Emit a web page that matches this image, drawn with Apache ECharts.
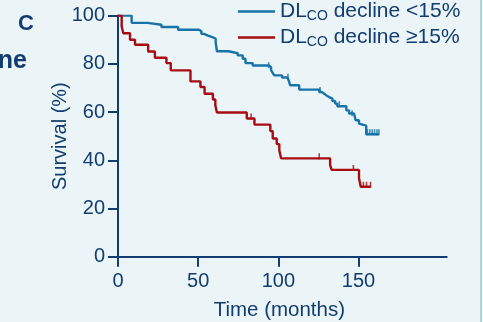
<!DOCTYPE html>
<html>
<head>
<meta charset="utf-8">
<script src="https://cdn.jsdelivr.net/npm/echarts@6/dist/echarts.min.js"></script>
<style>
  html, body { margin: 0; padding: 0; background: #ebf4f6; }
  #chart { width: 483px; height: 322px; }
</style>
</head>
<body>
<div id="chart"></div>
<script>
// Kaplan–Meier survival by DLCO decline group: [time (months), survival (%)]
const lowDeclineCurve = [
  [0, 100], [8.5, 97.0], [18.4, 96.2], [27.1, 95.3], [37.5, 94.1], [50.5, 93.5],
  [52, 92.4], [53.6, 91.7], [56.1, 91.0], [59.2, 90.4], [60.9, 89.0], [61.7, 85.2],
  [68.9, 84.4], [74.7, 83.5], [77.8, 82.1], [79.5, 80.3], [84, 79.3], [94, 78.6],
  [95.5, 77.3], [96.5, 76.2], [97.5, 75.2], [102.3, 74.3], [105.8, 73.8], [106.8, 72.4],
  [107.3, 71.1], [113, 69.3], [125.5, 68.3], [127.1, 67.6], [128.6, 66.9], [130, 66.2],
  [131.7, 65.6], [133.7, 64.6], [135.4, 63.5], [136.8, 62.4], [142.4, 60.7], [144.1, 59.4],
  [147.2, 58.7], [148.2, 56.6], [150.3, 55.2], [151.4, 54.4], [154.8, 50.8], [162.7, 50.8]
];
const highDeclineCurve = [
  [0, 100], [2.3, 95.5], [3.3, 92.7], [7.5, 90.0], [10.6, 87.9], [18.8, 85.1],
  [23, 82.5], [30.2, 80.3], [32.9, 77.3], [45.2, 72.7], [51.4, 70.4], [54, 67.6],
  [59.2, 65.2], [60.7, 62.8], [61.7, 59.8], [80.3, 57.3], [85.1, 54.8], [95, 52.1],
  [96.5, 49.0], [99, 46.7], [100.6, 44.2], [101.7, 40.8], [132.3, 38.0], [133.3, 36.0],
  [150.3, 32.5], [151.4, 29.0], [157.5, 29.0]
];
// Censored observations
const lowDeclineCensored = [
  [94, 78.6], [106, 73.8], [126, 68.3], [138, 62.4], [146, 58.7],
  [155.5, 50.8], [157, 50.8], [158.5, 50.8], [160, 50.8], [161.5, 50.8], [162.7, 50.8]
];
const highDeclineCensored = [
  [83, 57.3], [125.5, 40.8], [146.8, 36.0], [153, 29.0], [155, 29.0], [157.5, 29.0]
];

const seriesNames = ['DL_CO decline <15%', 'DL_CO decline \u226515%'];
const legendLabels = {
  'DL_CO decline <15%': '{m|DL}{s|CO}{m| decline <15%}',
  'DL_CO decline \u226515%': '{m|DL}{s|CO}{m| decline \u226515%}'
};
const timeTicks = [0, 50, 100, 150];
const survivalTicks = [0, 20, 40, 60, 80, 100];

const navy = '#113d70';
const blue = '#1874a8';
const red = '#a60c12';
const font = '"Liberation Sans", Arial, sans-serif';

const chart = echarts.init(document.getElementById('chart'), null, { renderer: 'canvas' });

const censorSymbol = {
  type: 'scatter',
  symbol: 'rect',
  symbolSize: [1.6, 6],
  symbolOffset: [0, -2],
  silent: true,
  z: 3
};

chart.setOption({
  backgroundColor: '#ebf4f6',
  animation: false,
  textStyle: { fontFamily: font },
  grid: {
    left: 118, top: 15.6, width: 328.7, height: 241.1,
    containLabel: false, outerBoundsMode: 'none'
  },
  legend: {
    data: seriesNames,
    orient: 'vertical',
    left: 238,
    top: 1,
    itemWidth: 37,
    itemHeight: 2.5,
    itemGap: 4,
    icon: 'rect',
    padding: 0,
    selectedMode: false,
    formatter: function (name) { return legendLabels[name]; },
    textStyle: {
      color: navy,
      fontFamily: font,
      rich: {
        m: { fontSize: 21, color: navy, fontFamily: font, lineHeight: 24 },
        s: { fontSize: 14, color: navy, fontFamily: font, padding: [9, 0, 0, 0] }
      }
    }
  },
  xAxis: {
    type: 'value',
    min: 0,
    max: 205,
    name: 'Time (months)',
    nameLocation: 'middle',
    nameGap: 43,
    nameMoveOverlap: false,
    nameTextStyle: { color: navy, fontSize: 20.5, fontFamily: font, padding: [0, 6, 0, 0] },
    axisLine: { show: true, onZero: false, lineStyle: { color: navy, width: 2 } },
    axisTick: { show: true, length: 10, customValues: timeTicks, lineStyle: { color: navy, width: 2 } },
    axisLabel: { customValues: timeTicks, color: navy, fontSize: 20, fontFamily: font, margin: 15 },
    splitLine: { show: false }
  },
  yAxis: {
    type: 'value',
    min: 0,
    max: 100,
    interval: 20,
    name: 'Survival (%)',
    nameLocation: 'middle',
    nameGap: 48,
    nameMoveOverlap: false,
    nameTextStyle: { color: navy, fontSize: 20, fontFamily: font },
    axisLine: { show: true, onZero: false, lineStyle: { color: navy, width: 2 } },
    axisTick: { show: true, length: 10, lineStyle: { color: navy, width: 2 } },
    axisLabel: {
      color: navy, fontSize: 20, fontFamily: font, margin: 13,
      formatter: function (v) { return survivalTicks.indexOf(v) >= 0 ? String(v) : ''; }
    },
    splitLine: { show: false }
  },
  series: [
    {
      name: seriesNames[0],
      type: 'line',
      step: 'end',
      data: lowDeclineCurve,
      showSymbol: false,
      symbol: 'none',
      color: blue,
      lineStyle: { color: blue, width: 2.4 },
      z: 4
    },
    {
      name: seriesNames[1],
      type: 'line',
      step: 'end',
      data: highDeclineCurve,
      showSymbol: false,
      symbol: 'none',
      color: red,
      lineStyle: { color: red, width: 2.4 },
      z: 5
    },
    Object.assign({ name: 'censored-low', data: lowDeclineCensored, itemStyle: { color: blue } }, censorSymbol),
    Object.assign({ name: 'censored-high', data: highDeclineCensored, itemStyle: { color: red } }, censorSymbol)
  ],
  graphic: [
    {
      type: 'text', left: 18, top: 13,
      style: { text: 'C', fill: navy, font: 'bold 22px ' + font }
    },
    {
      type: 'text', x: 27, y: 74,
      style: { text: 'ne', fill: navy, font: 'bold 25px ' + font, textAlign: 'right', textVerticalAlign: 'bottom' }
    },
    {
      type: 'rect', shape: { x: 480, y: 0, width: 2, height: 322 },
      style: { fill: '#a9d6db' }, silent: true
    }
  ]
});
</script>
</body>
</html>
